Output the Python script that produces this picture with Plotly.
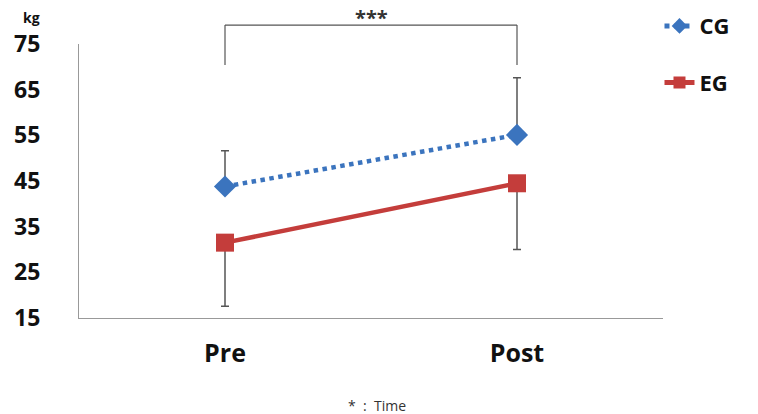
import plotly.graph_objects as go

# Measurement occasions and group means (kg) with one-sided SD bars
times = ["Pre", "Post"]
cg_mean = [43.8, 55.1]
cg_sd = [7.8, 12.5]
eg_mean = [31.5, 44.5]
eg_sd = [13.9, 14.5]
y_ticks = [15, 25, 35, 45, 55, 65, 75]

x_pos = list(range(len(times)))
font_family = "Open Sans, Lato, sans-serif"

fig = go.Figure()

fig.add_trace(go.Scatter(
    x=x_pos, y=cg_mean, name="<b>CG</b>", mode="lines+markers",
    line=dict(color="#3B74BE", width=4.5, dash="dot"),
    marker=dict(symbol="diamond", size=17, color="#3B74BE"),
    error_y=dict(type="data", symmetric=False, array=cg_sd,
                 arrayminus=[0] * len(cg_sd), color="#555555",
                 thickness=1.5, width=4),
    legendgroup="cg",
))

fig.add_trace(go.Scatter(
    x=x_pos, y=eg_mean, name="<b>EG</b>", mode="lines+markers",
    line=dict(color="#C43D3B", width=4.5),
    marker=dict(symbol="square", size=18, color="#C43D3B"),
    error_y=dict(type="data", symmetric=False, array=[0] * len(eg_sd),
                 arrayminus=eg_sd, color="#555555",
                 thickness=1.5, width=4),
    legendgroup="eg",
))

# Significance bracket between the two time points
def cat_paper(i):
    return (i + 0.5) / len(times)

bracket_top = 1.069
bracket_foot = 0.923
line_style = dict(color="#555555", width=1.2)
fig.add_shape(type="line", xref="paper", yref="paper",
              x0=cat_paper(0), x1=cat_paper(1), y0=bracket_top, y1=bracket_top,
              line=line_style)
for i in (0, 1):
    fig.add_shape(type="line", xref="paper", yref="paper",
                  x0=cat_paper(i), x1=cat_paper(i), y0=bracket_top, y1=bracket_foot,
                  line=line_style)

fig.add_annotation(text="<b>***</b>", xref="paper", yref="paper",
                   x=(cat_paper(0) + cat_paper(1)) / 2, y=bracket_top,
                   yanchor="bottom", showarrow=False, yshift=-8,
                   font=dict(size=20, color="#333333", family=font_family))

fig.add_annotation(text="<b>kg</b>", xref="paper", yref="paper",
                   x=-0.081, y=1.095, xanchor="center", yanchor="middle",
                   showarrow=False,
                   font=dict(size=14, color="#111111", family=font_family))

fig.add_annotation(text="*  :  Time", xref="paper", yref="paper",
                   x=0.51, y=-0.32, xanchor="center", yanchor="middle",
                   showarrow=False,
                   font=dict(size=14, color="#333333", family=font_family))

fig.update_layout(
    width=758, height=414,
    margin=dict(l=79, r=95, t=44, b=96, autoexpand=False),
    plot_bgcolor="white", paper_bgcolor="white",
    showlegend=True,
    legend=dict(x=0.994, y=1.142, xanchor="left", yanchor="top",
                font=dict(size=22, color="#111111", family=font_family),
                tracegroupgap=25, itemwidth=30, itemsizing="constant",
                bgcolor="rgba(0,0,0,0)"),
    font=dict(family=font_family),
)

fig.update_xaxes(
    range=[-0.5, len(times) - 0.5], tickvals=x_pos,
    ticktext=[f"<b>{t}</b>" for t in times],
    showline=True, linecolor="#999999", linewidth=1.2,
    showgrid=False, zeroline=False, ticks="",
    tickfont=dict(size=25, color="#111111", family=font_family),
    ticklabelstandoff=13,
)

fig.update_yaxes(
    range=[15, 75], tickvals=y_ticks,
    ticktext=[f"<b>{v}</b>" for v in y_ticks],
    showline=True, linecolor="#999999", linewidth=1.2,
    showgrid=False, zeroline=False, ticks="",
    tickfont=dict(size=23, color="#111111", family=font_family),
    ticklabelstandoff=33,
)

fig.write_html("out.html")
